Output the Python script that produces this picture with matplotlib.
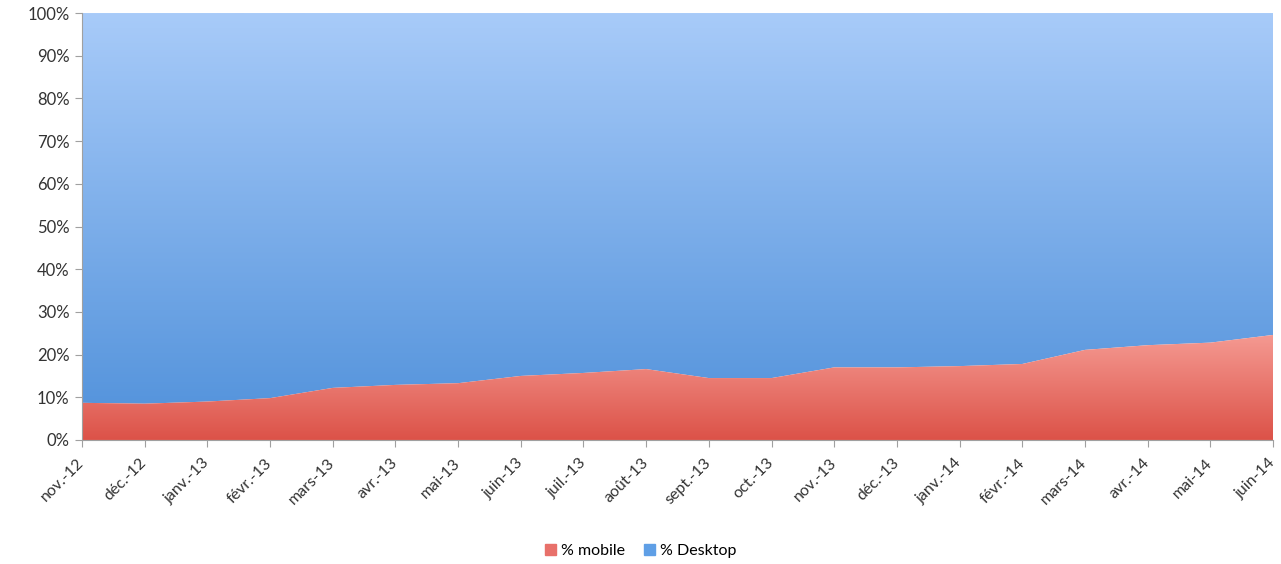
import matplotlib.pyplot as plt
import numpy as np
from matplotlib.colors import LinearSegmentedColormap
from matplotlib.patches import Patch

months = ["nov.-12", "déc.-12", "janv.-13", "févr.-13", "mars-13", "avr.-13",
          "mai-13", "juin-13", "juil.-13", "août-13", "sept.-13", "oct.-13",
          "nov.-13", "déc.-13", "janv.-14", "févr.-14", "mars-14", "avr.-14",
          "mai-14", "juin-14"]
mobile = [8.7, 8.5, 9.0, 9.8, 12.2, 12.9, 13.3, 15.0, 15.7, 16.6,
          14.5, 14.5, 17.0, 17.0, 17.3, 17.8, 21.1, 22.2, 22.8, 24.6]
desktop = [100 - m for m in mobile]

plt.rcParams["font.family"] = ["Lato", "DejaVu Sans"]

fig = plt.figure(figsize=(12.81, 5.64), dpi=100)
ax = fig.add_axes([0.064, 0.2199, 0.9298, 0.757])

x = np.arange(len(months))
mob = np.array(mobile)
top = mob + np.array(desktop)


def gradient_fill(ax, x, y0, y1, c_top, c_bottom, ymin, ymax):
    poly = ax.fill_between(x, y0, y1, color="none", lw=0)
    cmap = LinearSegmentedColormap.from_list("g", [c_bottom, c_top])
    grad = np.linspace(0, 1, 256).reshape(-1, 1)
    im = ax.imshow(grad, cmap=cmap, aspect="auto", origin="lower",
                   extent=[x[0], x[-1], ymin, ymax], zorder=1)
    im.set_clip_path(poly.get_paths()[0], transform=ax.transData)


gradient_fill(ax, x, mob, top, "#a8cbf9", "#4f90da", 0, 100)
gradient_fill(ax, x, 0, mob, "#f59a92", "#dc5248", 0, mob.max())

ax.set_xlim(x[0], x[-1])
ax.set_ylim(0, 100)
ax.set_yticks(range(0, 101, 10))
ax.set_yticklabels([f"{v}%" for v in range(0, 101, 10)])
ax.set_xticks(x)
ax.set_xticklabels(months, rotation=45, ha="right", va="center",
                   rotation_mode="anchor")

for s in ["top", "right"]:
    ax.spines[s].set_visible(False)
for s in ["left", "bottom"]:
    ax.spines[s].set_color("#a0a0a0")
ax.tick_params(axis="both", colors="#a0a0a0", labelcolor="#333333",
               labelsize=12, length=5, direction="out")
ax.tick_params(axis="x", labelsize=11.5, pad=10)
ax.tick_params(axis="y", pad=4)

handles = [Patch(color="#e8706a", label="% mobile"),
           Patch(color="#5f9fe6", label="% Desktop")]
fig.legend(handles=handles, loc="lower center", ncol=2, frameon=False,
           bbox_to_anchor=(0.5, -0.015), fontsize=11.5, handlelength=0.7,
           handleheight=0.7, handletextpad=0.3, columnspacing=1.2)

fig.savefig("out.png", dpi=100)
